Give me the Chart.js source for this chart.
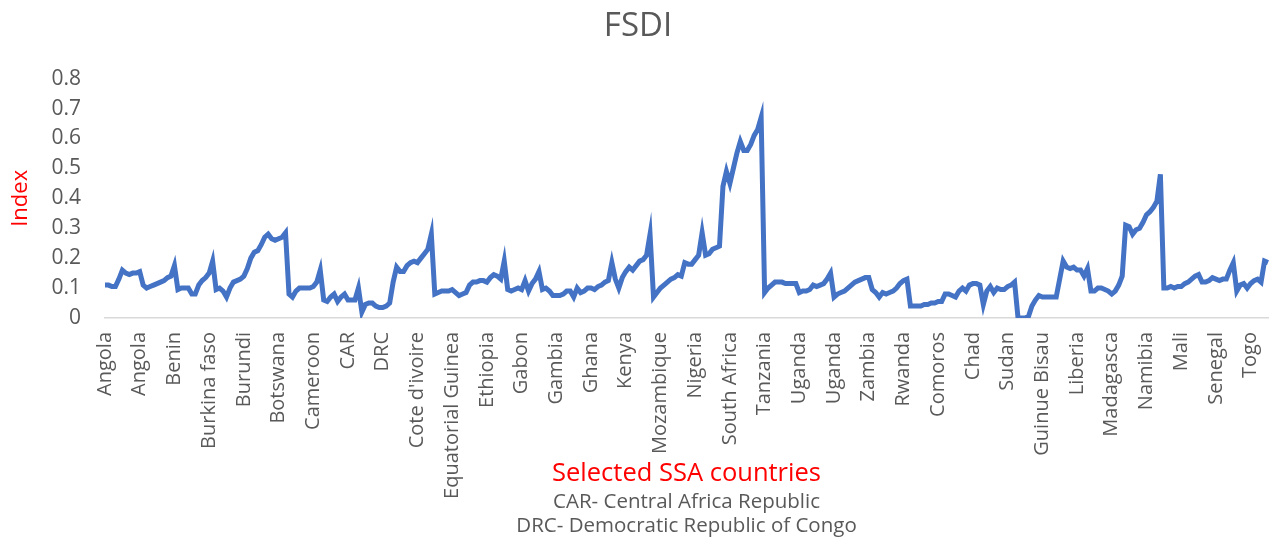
<!DOCTYPE html>
<html>
<head>
<meta charset="utf-8">
<script src="https://cdn.jsdelivr.net/npm/chart.js@4.4.1/dist/chart.umd.min.js"></script>
<style>
  html, body { margin: 0; padding: 0; background: #fff; }
  #wrap { width: 1274px; height: 540px; }
</style>
</head>
<body>
<div id="wrap"><canvas id="fsdi-chart"></canvas></div>
<script>
// one tick label every 10 observations
const countries = ["Angola", "Angola", "Benin", "Burkina faso", "Burundi", "Botswana", "Cameroon", "CAR", "DRC",
  "Cote d'ivoire", "Equatorial Guinea", "Ethiopia", "Gabon", "Gambia", "Ghana", "Kenya", "Mozambique", "Nigeria",
  "South Africa", "Tanzania", "Uganda", "Uganda", "Zambia", "Rwanda", "Comoros", "Chad", "Sudan", "Guinue Bisau",
  "Liberia", "Madagasca", "Namibia", "Mali", "Senegal", "Togo"];

const fsdi = [
  0.11, 0.11, 0.105, 0.105, 0.13, 0.16, 0.15, 0.145, 0.15, 0.15,
  0.155, 0.11, 0.10, 0.105, 0.11, 0.115, 0.12, 0.125, 0.135, 0.14,
  0.175, 0.095, 0.10, 0.10, 0.10, 0.08, 0.08, 0.11, 0.125, 0.135,
  0.15, 0.19, 0.095, 0.10, 0.09, 0.07, 0.10, 0.12, 0.125, 0.13,
  0.14, 0.165, 0.20, 0.22, 0.225, 0.245, 0.27, 0.28, 0.265, 0.26,
  0.265, 0.27, 0.285, 0.08, 0.07, 0.09, 0.10, 0.10, 0.10, 0.10,
  0.105, 0.12, 0.16, 0.06, 0.055, 0.07, 0.08, 0.055, 0.07, 0.08,
  0.06, 0.06, 0.06, 0.10, 0.02, 0.045, 0.05, 0.05, 0.04, 0.035,
  0.035, 0.04, 0.05, 0.12, 0.17, 0.155, 0.155, 0.175, 0.185, 0.19,
  0.185, 0.20, 0.215, 0.23, 0.28, 0.08, 0.085, 0.09, 0.09, 0.09,
  0.095, 0.085, 0.075, 0.08, 0.085, 0.11, 0.12, 0.12, 0.125, 0.125,
  0.12, 0.135, 0.145, 0.14, 0.13, 0.19, 0.095, 0.09, 0.095, 0.10,
  0.095, 0.125, 0.09, 0.115, 0.13, 0.155, 0.095, 0.10, 0.09, 0.075,
  0.075, 0.075, 0.08, 0.09, 0.09, 0.07, 0.10, 0.085, 0.09, 0.10,
  0.10, 0.095, 0.105, 0.11, 0.12, 0.125, 0.185, 0.13, 0.10, 0.135,
  0.155, 0.17, 0.16, 0.175, 0.19, 0.195, 0.21, 0.28, 0.07, 0.085,
  0.10, 0.11, 0.12, 0.13, 0.135, 0.145, 0.14, 0.185, 0.18, 0.18,
  0.195, 0.21, 0.285, 0.21, 0.215, 0.23, 0.235, 0.24, 0.44, 0.49,
  0.45, 0.50, 0.55, 0.59, 0.56, 0.56, 0.58, 0.61, 0.63, 0.67,
  0.085, 0.10, 0.11, 0.12, 0.12, 0.12, 0.115, 0.115, 0.115, 0.115,
  0.085, 0.09, 0.09, 0.095, 0.11, 0.105, 0.11, 0.115, 0.13, 0.15,
  0.07, 0.08, 0.085, 0.09, 0.10, 0.11, 0.12, 0.125, 0.13, 0.135,
  0.135, 0.095, 0.085, 0.07, 0.085, 0.08, 0.085, 0.09, 0.10, 0.115,
  0.125, 0.13, 0.04, 0.04, 0.04, 0.04, 0.045, 0.045, 0.05, 0.05,
  0.055, 0.055, 0.08, 0.08, 0.075, 0.07, 0.09, 0.10, 0.09, 0.11,
  0.115, 0.115, 0.11, 0.045, 0.09, 0.105, 0.085, 0.10, 0.095, 0.095,
  0.105, 0.11, 0.12, 0.0, 0.0, 0.0, 0.005, 0.04, 0.06, 0.075,
  0.07, 0.07, 0.07, 0.07, 0.07, 0.13, 0.19, 0.17, 0.165, 0.17,
  0.16, 0.16, 0.14, 0.165, 0.09, 0.09, 0.10, 0.10, 0.095, 0.09,
  0.08, 0.09, 0.11, 0.14, 0.31, 0.305, 0.28, 0.295, 0.30, 0.32,
  0.345, 0.355, 0.37, 0.39, 0.48, 0.10, 0.10, 0.105, 0.10, 0.105,
  0.105, 0.115, 0.12, 0.13, 0.14, 0.145, 0.12, 0.12, 0.125, 0.135,
  0.13, 0.125, 0.13, 0.13, 0.16, 0.185, 0.09, 0.11, 0.115, 0.10,
  0.115, 0.125, 0.13, 0.12, 0.19, 0.185
];

const notes = ["CAR- Central Africa Republic", "DRC- Democratic Republic of Congo"];

const labels = fsdi.map((v, i) => (i % 10 === 0 ? countries[i / 10] : ""));

const grey = "#595959";
const fontName = "'Open Sans'";

// x title and the two footnote lines under the axis
const footNotes = {
  id: "footNotes",
  afterDraw(chart) {
    const ctx = chart.ctx;
    const area = chart.chartArea;
    const cx = (area.left + area.right) / 2;
    ctx.save();
    ctx.textAlign = "center";
    ctx.textBaseline = "middle";
    ctx.fillStyle = "#ff0000";
    ctx.font = "25.5px " + fontName;
    ctx.fillText("Selected SSA countries", cx, area.bottom + 156);
    ctx.fillStyle = grey;
    ctx.font = "20.5px " + fontName;
    ctx.fillText(notes[0], cx, area.bottom + 184);
    ctx.fillText(notes[1], cx, area.bottom + 208);
    ctx.restore();
  }
};

new Chart(document.getElementById("fsdi-chart"), {
  type: "line",
  data: {
    labels: labels,
    datasets: [{
      label: "FSDI",
      data: fsdi,
      borderColor: "#4472c4",
      borderWidth: 5,
      pointRadius: 0,
      tension: 0,
      fill: false
    }]
  },
  options: {
    responsive: true,
    maintainAspectRatio: false,
    animation: false,
    layout: { padding: { left: 8, right: 6, top: 0, bottom: 0 } },
    plugins: {
      legend: { display: false },
      tooltip: { enabled: false },
      title: {
        display: true,
        text: "FSDI",
        color: grey,
        font: { family: fontName, size: 33, weight: "normal" },
        padding: { top: 7, bottom: 32 }
      }
    },
    scales: {
      x: {
        grid: { display: false, drawTicks: false },
        border: { color: "#d9d9d9", width: 1.5 },
        afterFit(scale) {
          scale.height = 222;
          scale.paddingLeft = 0;
          scale.paddingRight = 0;
        },
        ticks: {
          autoSkip: false,
          minRotation: 90,
          maxRotation: 90,
          padding: 14,
          color: grey,
          font: { family: fontName, size: 20 }
        }
      },
      y: {
        min: 0,
        max: 0.8,
        grid: { display: false, drawTicks: false },
        border: { display: false },
        afterFit(scale) { scale.width = 97; },
        title: {
          display: true,
          text: "Index",
          color: "#ff0000",
          font: { family: fontName, size: 22 },
          padding: { top: 0, bottom: 4 }
        },
        ticks: {
          stepSize: 0.1,
          padding: 24,
          color: grey,
          font: { family: fontName, size: 21 },
          callback: v => (v === 0 ? "0" : v.toFixed(1))
        }
      }
    }
  },
  plugins: [footNotes]
});
</script>
</body>
</html>
